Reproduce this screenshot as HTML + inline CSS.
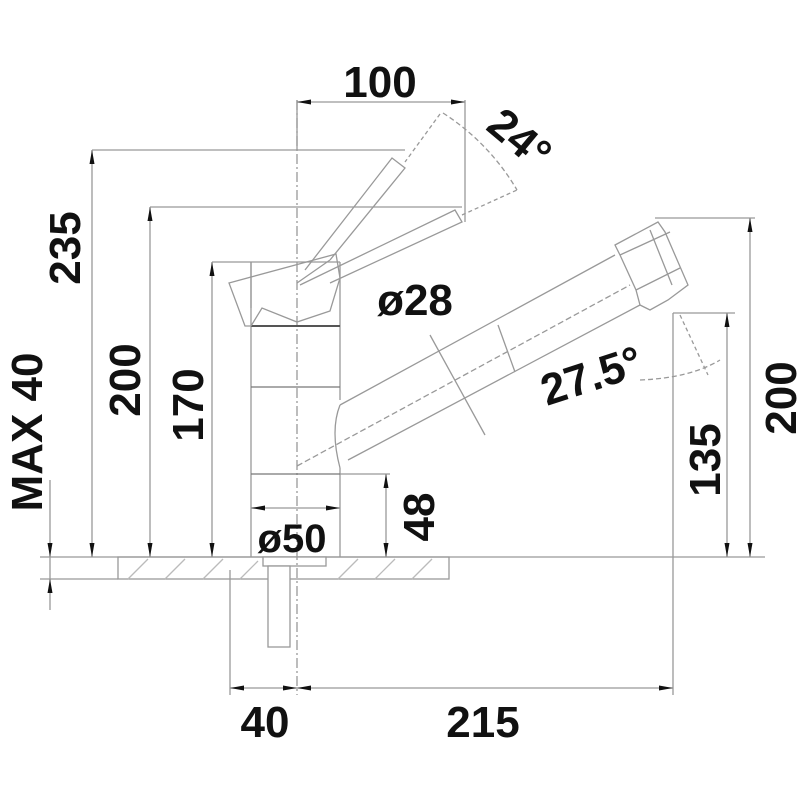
<!DOCTYPE html>
<html><head><style>
html,body{margin:0;padding:0;background:#fff;}
svg{display:block;}
text{font-family:"Liberation Sans",Arial,sans-serif;fill:#111;font-weight:bold;}
</style></head><body>
<svg width="800" height="800" viewBox="0 0 800 800" xmlns="http://www.w3.org/2000/svg">
<g stroke="#999" stroke-width="1.3" fill="none">
<line x1="40" y1="557" x2="765" y2="557"/>
<line x1="40" y1="579" x2="118" y2="579"/>
<rect x="118" y="557" width="331" height="22"/>
<g stroke="#bbb">
<line x1="128" y1="579" x2="148" y2="559"/><line x1="165" y1="579" x2="185" y2="559"/><line x1="203" y1="579" x2="223" y2="559"/><line x1="240" y1="579" x2="258" y2="561"/>
<line x1="338" y1="579" x2="358" y2="559"/><line x1="375" y1="579" x2="395" y2="559"/><line x1="412" y1="579" x2="432" y2="559"/>
</g>
<rect x="263" y="557" width="63" height="9" fill="#fff"/>
<rect x="268" y="566" width="22" height="81" fill="#fff"/>
<line x1="297" y1="100" x2="297" y2="695" stroke-dasharray="10,3,2,3"/>
<line x1="251" y1="262" x2="251" y2="557"/>
<line x1="340" y1="262" x2="340" y2="400"/>
<line x1="340" y1="468" x2="340" y2="557"/>
<line x1="251" y1="326" x2="340" y2="326" stroke="#555" stroke-width="2"/>
<line x1="251" y1="387" x2="340" y2="387" stroke="#777"/>
<line x1="251" y1="474" x2="340" y2="474" stroke="#777"/>
<path d="M229,283 L336,254 L340,278 L330,311 L297,322 L262,308 L251,326 L245,326 Z"/>
<path d="M251,262 L251,308 M297,283 L330,260"/>
<path d="M305,270 L392,158 L405,168 L330,260"/>
<path d="M440,114 L405,162" stroke-dasharray="4,3"/>
<path d="M300,285 L455,210 L462,222 L330,283"/>
<path d="M462,215 L517,190" stroke-dasharray="4,3"/>
<path d="M443,113 A229 229 0 0 1 517,190" stroke-dasharray="5,3"/>
<path d="M340,405 Q330,430 340,468"/>
<path d="M340,405 L615,255 M348,460 L640,305"/>
<path d="M297,466 L630,285" stroke-dasharray="6,3"/>
<path d="M498,325 L515,372"/>
<path d="M615,245 L658,222 L665,232 L688,285 L668,300 L650,310 L640,305 L636,290 L620,255 Z"/>
<path d="M620,255 L670,232 M636,290 L680,268 M650,230 L672,285"/>
<line x1="92" y1="150" x2="405" y2="150"/>
<line x1="150" y1="207" x2="462" y2="207"/>
<line x1="212" y1="262" x2="340" y2="262"/>
<line x1="655" y1="218" x2="755" y2="218"/>
<line x1="673" y1="313" x2="735" y2="313"/>
<line x1="297" y1="100" x2="297" y2="150"/>
<line x1="465" y1="100" x2="465" y2="222"/>
<line x1="230" y1="570" x2="230" y2="695"/>
<line x1="673" y1="313" x2="673" y2="695"/>
<line x1="340" y1="474" x2="390" y2="474"/>
<line x1="680" y1="315" x2="708" y2="375" stroke-dasharray="4,3"/>
<path d="M640,380 Q690,378 720,360" stroke-dasharray="5,3"/>
<line x1="430" y1="335" x2="485" y2="435"/>
<line x1="297" y1="102" x2="465" y2="102"/>
<line x1="92" y1="150" x2="92" y2="557"/>
<line x1="150" y1="207" x2="150" y2="557"/>
<line x1="212" y1="262" x2="212" y2="557"/>
<line x1="386" y1="474" x2="386" y2="557"/>
<line x1="251" y1="508" x2="340" y2="508"/>
<line x1="727" y1="313" x2="727" y2="557"/>
<line x1="750" y1="218" x2="750" y2="557"/>
<line x1="230" y1="688" x2="673" y2="688"/>
<line x1="50" y1="480" x2="50" y2="610"/>
</g>
<g fill="#111" stroke="none">
<!-- vertical top (up) arrows -->
<path d="M92,150 l-2.5,14 h5z"/><path d="M92,557 l-2.5,-14 h5z"/>
<path d="M150,207 l-2.5,14 h5z"/><path d="M150,557 l-2.5,-14 h5z"/>
<path d="M212,262 l-2.5,14 h5z"/><path d="M212,557 l-2.5,-14 h5z"/>
<path d="M386,474 l-2.5,14 h5z"/><path d="M386,557 l-2.5,-14 h5z"/>
<path d="M727,313 l-2.5,14 h5z"/><path d="M727,557 l-2.5,-14 h5z"/>
<path d="M750,218 l-2.5,14 h5z"/><path d="M750,557 l-2.5,-14 h5z"/>
<path d="M50,557 l-2.5,-14 h5z"/><path d="M50,579 l-2.5,14 h5z"/>
<!-- horizontal -->
<path d="M297,102 l14,-2.5 v5z"/><path d="M465,102 l-14,-2.5 v5z"/>
<path d="M251,508 l14,-2.5 v5z"/><path d="M340,508 l-14,-2.5 v5z"/>
<path d="M230,688 l14,-2.5 v5z"/><path d="M297,688 l-14,-2.5 v5z"/>
<path d="M297,688 l14,-2.5 v5z"/><path d="M673,688 l-14,-2.5 v5z"/>
</g>
<g font-size="44">
<text x="380" y="97" text-anchor="middle">100</text>
<text transform="translate(80,248) rotate(-90)" text-anchor="middle">235</text>
<text transform="translate(140,380) rotate(-90)" text-anchor="middle">200</text>
<text transform="translate(203,405) rotate(-90)" text-anchor="middle">170</text>
<text transform="translate(42,432) rotate(-90)" text-anchor="middle">MAX 40</text>
<text transform="translate(434,517) rotate(-90)" text-anchor="middle">48</text>
<text transform="translate(720,460) rotate(-90)" text-anchor="middle">135</text>
<text transform="translate(796,398) rotate(-90)" text-anchor="middle">200</text>
<text x="415" y="315" text-anchor="middle">ø28</text>
<text x="292" y="552" text-anchor="middle" font-size="40">ø50</text>
<text transform="translate(596,390) rotate(-18)" text-anchor="middle">27.5°</text>
<text transform="translate(510,150) rotate(40)" text-anchor="middle">24°</text>
<text x="265" y="737" text-anchor="middle">40</text>
<text x="483" y="737" text-anchor="middle">215</text>
</g>
</svg>
</body></html>
